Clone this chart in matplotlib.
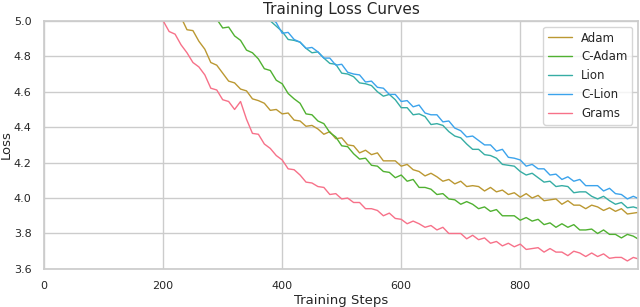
import numpy as np
import matplotlib
matplotlib.use("Agg")
import matplotlib.pyplot as plt
import seaborn as sns

# loss values, every 10 steps
grams_steps = np.arange(190, 1001, 10)
grams = [5.05, 5.00, 4.94, 4.925, 4.865, 4.82, 4.765, 4.74, 4.695, 4.62,
         4.61, 4.555, 4.545, 4.50, 4.545, 4.445, 4.365, 4.36, 4.305, 4.28,
         4.24, 4.215, 4.165, 4.16, 4.13, 4.09, 4.085, 4.065, 4.06, 4.02,
         4.025, 3.995, 4.00, 3.975, 3.975, 3.94, 3.94, 3.93, 3.90, 3.915,
         3.885, 3.88, 3.855, 3.87, 3.855, 3.835, 3.845, 3.82, 3.835, 3.80,
         3.80, 3.80, 3.77, 3.79, 3.765, 3.775, 3.745, 3.755, 3.73, 3.745,
         3.725, 3.74, 3.71, 3.715, 3.72, 3.695, 3.715, 3.695, 3.695, 3.675,
         3.70, 3.69, 3.67, 3.69, 3.67, 3.685, 3.66, 3.665, 3.665, 3.645,
         3.665, 3.655]

adam_steps = np.arange(220, 1001, 10)
adam = [5.06, 5.02, 4.95, 4.945, 4.885, 4.84, 4.765, 4.75, 4.705, 4.66,
        4.65, 4.615, 4.605, 4.56, 4.55, 4.535, 4.495, 4.50, 4.475, 4.48,
        4.44, 4.435, 4.405, 4.41, 4.39, 4.36, 4.375, 4.335, 4.34, 4.30,
        4.295, 4.255, 4.27, 4.245, 4.255, 4.21, 4.21, 4.21, 4.18, 4.19,
        4.16, 4.15, 4.125, 4.14, 4.12, 4.095, 4.105, 4.08, 4.095, 4.065,
        4.07, 4.065, 4.04, 4.06, 4.035, 4.045, 4.02, 4.03, 4.005, 4.025,
        4.00, 4.015, 3.985, 3.99, 3.995, 3.965, 3.985, 3.96, 3.96, 3.94,
        3.96, 3.95, 3.93, 3.945, 3.925, 3.94, 3.91, 3.915, 3.92]

cadam_steps = np.arange(280, 1001, 10)
cadam = [5.05, 5.01, 4.96, 4.965, 4.915, 4.89, 4.835, 4.82, 4.785, 4.73,
         4.72, 4.665, 4.645, 4.59, 4.56, 4.535, 4.475, 4.47, 4.435, 4.42,
         4.37, 4.345, 4.295, 4.29, 4.25, 4.22, 4.225, 4.185, 4.18, 4.15,
         4.145, 4.115, 4.13, 4.095, 4.105, 4.06, 4.06, 4.05, 4.02, 4.025,
         3.995, 3.99, 3.965, 3.98, 3.965, 3.94, 3.95, 3.925, 3.935, 3.90,
         3.90, 3.90, 3.875, 3.89, 3.87, 3.88, 3.85, 3.86, 3.835, 3.855,
         3.835, 3.85, 3.82, 3.82, 3.825, 3.80, 3.82, 3.795, 3.795, 3.775,
         3.795, 3.785, 3.765]

lion_steps = np.arange(380, 1001, 10)
lion = [5.00, 4.97, 4.94, 4.895, 4.89, 4.88, 4.845, 4.82, 4.825, 4.79,
        4.76, 4.755, 4.705, 4.70, 4.685, 4.65, 4.645, 4.635, 4.60, 4.575,
        4.585, 4.555, 4.51, 4.51, 4.47, 4.475, 4.46, 4.415, 4.42, 4.41,
        4.375, 4.35, 4.34, 4.305, 4.275, 4.275, 4.245, 4.24, 4.225, 4.19,
        4.185, 4.18, 4.15, 4.13, 4.14, 4.115, 4.09, 4.095, 4.065, 4.07,
        4.065, 4.03, 4.035, 4.035, 4.01, 3.995, 4.01, 3.985, 3.965, 3.975,
        3.945, 3.95, 3.94]

clion_steps = np.arange(380, 1001, 10)
clion = [5.02, 4.99, 4.93, 4.935, 4.895, 4.88, 4.845, 4.85, 4.825, 4.79,
         4.79, 4.75, 4.755, 4.71, 4.70, 4.695, 4.655, 4.66, 4.625, 4.62,
         4.585, 4.585, 4.545, 4.55, 4.515, 4.525, 4.48, 4.47, 4.47, 4.43,
         4.435, 4.395, 4.38, 4.345, 4.35, 4.325, 4.30, 4.30, 4.265, 4.275,
         4.23, 4.225, 4.215, 4.18, 4.19, 4.165, 4.165, 4.13, 4.135, 4.105,
         4.12, 4.095, 4.105, 4.07, 4.07, 4.07, 4.04, 4.055, 4.025, 4.02,
         3.995, 4.01, 3.995]

labels = ["Adam", "C-Adam", "Lion", "C-Lion", "Grams"]
colors = ["#bb9832", "#50b131", "#36ada4", "#3ba3ec", "#f77189"]

sns.set_theme(style="whitegrid")

fig = plt.figure(figsize=(6.4, 3.07), dpi=100)
ax = fig.add_axes([0.069, 0.124, 0.928, 0.808])

series = [(adam_steps, adam), (cadam_steps, cadam), (lion_steps, lion),
          (clion_steps, clion), (grams_steps, grams)]
for (x, y), lab, c in zip(series, labels, colors):
    ax.plot(x, y, color=c, lw=1.0, label=lab)

ax.set_xlim(0, 998)
ax.set_ylim(3.6, 5.0)
ax.set_xticks([0, 200, 400, 600, 800])
ax.set_yticks([3.6, 3.8, 4.0, 4.2, 4.4, 4.6, 4.8, 5.0])
ax.tick_params(labelsize=8, pad=3)
ax.set_xlabel("Training Steps", fontsize=9.5, labelpad=2)
ax.set_ylabel("Loss", fontsize=9.5, labelpad=1)
ax.set_title("Training Loss Curves", fontsize=11, pad=5)
ax.legend(loc="upper right", fontsize=8.5, handlelength=2.0,
          borderaxespad=0.5, labelspacing=0.5)

plt.savefig("out.png", dpi=100)
